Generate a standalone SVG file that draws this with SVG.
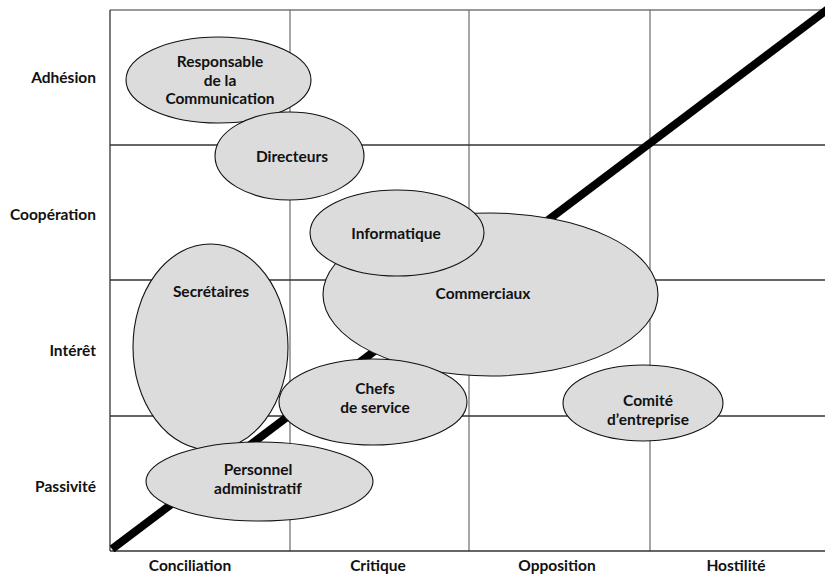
<svg xmlns="http://www.w3.org/2000/svg" width="825" height="576" viewBox="0 0 825 576">
<style>
text{font-family:Lato,"Liberation Sans",sans-serif;font-weight:bold;font-size:15.5px;fill:#111}
.c{text-anchor:middle}
.l{text-anchor:end}
.v{stroke:#777;stroke-width:1.3;fill:none}
.h{stroke:#333;stroke-width:1.3;fill:none}
ellipse{fill:#dcdcdd;stroke:#111;stroke-width:1.1}
</style>
<rect width="825" height="576" fill="#fff"/>
<g id="grid">
<line class="v" x1="110" y1="10" x2="825" y2="10"/>
<line class="v" x1="290" y1="10" x2="290" y2="551"/>
<line class="v" x1="469" y1="10" x2="469" y2="551"/>
<line class="v" x1="650" y1="10" x2="650" y2="551"/>
<line class="h" x1="110" y1="145" x2="825" y2="145"/>
<line class="h" x1="110" y1="280" x2="825" y2="280"/>
<line class="h" x1="110" y1="416" x2="825" y2="416"/>
<line class="h" x1="110" y1="10" x2="110" y2="551"/>
<line class="h" x1="110" y1="551" x2="825" y2="551"/>
</g>
<g id="connectors">
<line x1="112" y1="549" x2="828" y2="9" stroke="#000" stroke-width="8"/>
</g>
<g id="axis-labels">
<text class="l" x="96" y="83">Adhésion</text>
<text class="l" x="96" y="220">Coopération</text>
<text class="l" x="96" y="356">Intérêt</text>
<text class="l" x="96" y="492">Passivité</text>
<text class="c" x="190" y="571">Conciliation</text>
<text class="c" x="378" y="571">Critique</text>
<text class="c" x="557" y="571">Opposition</text>
<text class="c" x="736" y="571">Hostilité</text>
</g>
<g id="responsable">
<ellipse cx="218.5" cy="80" rx="92.5" ry="43"/>
<text class="c" x="220" y="67">Responsable</text>
<text class="c" x="220" y="85.5">de la</text>
<text class="c" x="220" y="104">Communication</text>
</g>
<g id="directeurs">
<ellipse cx="289.5" cy="156" rx="74.5" ry="44"/>
<text class="c" x="292" y="162">Directeurs</text>
</g>
<g id="commerciaux">
<ellipse cx="490.5" cy="294.5" rx="167.5" ry="81.5"/>
<text class="c" x="483" y="299">Commerciaux</text>
</g>
<g id="informatique">
<ellipse cx="397" cy="233" rx="87" ry="43"/>
<text class="c" x="396" y="239">Informatique</text>
</g>
<g id="secretaires">
<ellipse cx="210.5" cy="347" rx="77.5" ry="103"/>
<text class="c" x="211" y="297">Secrétaires</text>
</g>
<g id="chefs">
<ellipse cx="373" cy="402" rx="94" ry="43"/>
<text class="c" x="375" y="394">Chefs</text>
<text class="c" x="375" y="413">de service</text>
</g>
<g id="comite">
<ellipse cx="643" cy="403" rx="80" ry="38"/>
<text class="c" x="648" y="406">Comité</text>
<text class="c" x="648" y="425">d’entreprise</text>
</g>
<g id="personnel">
<ellipse cx="259.5" cy="481.5" rx="113.5" ry="39.5"/>
<text class="c" x="258" y="475">Personnel</text>
<text class="c" x="258" y="494">administratif</text>
</g>
</svg>
